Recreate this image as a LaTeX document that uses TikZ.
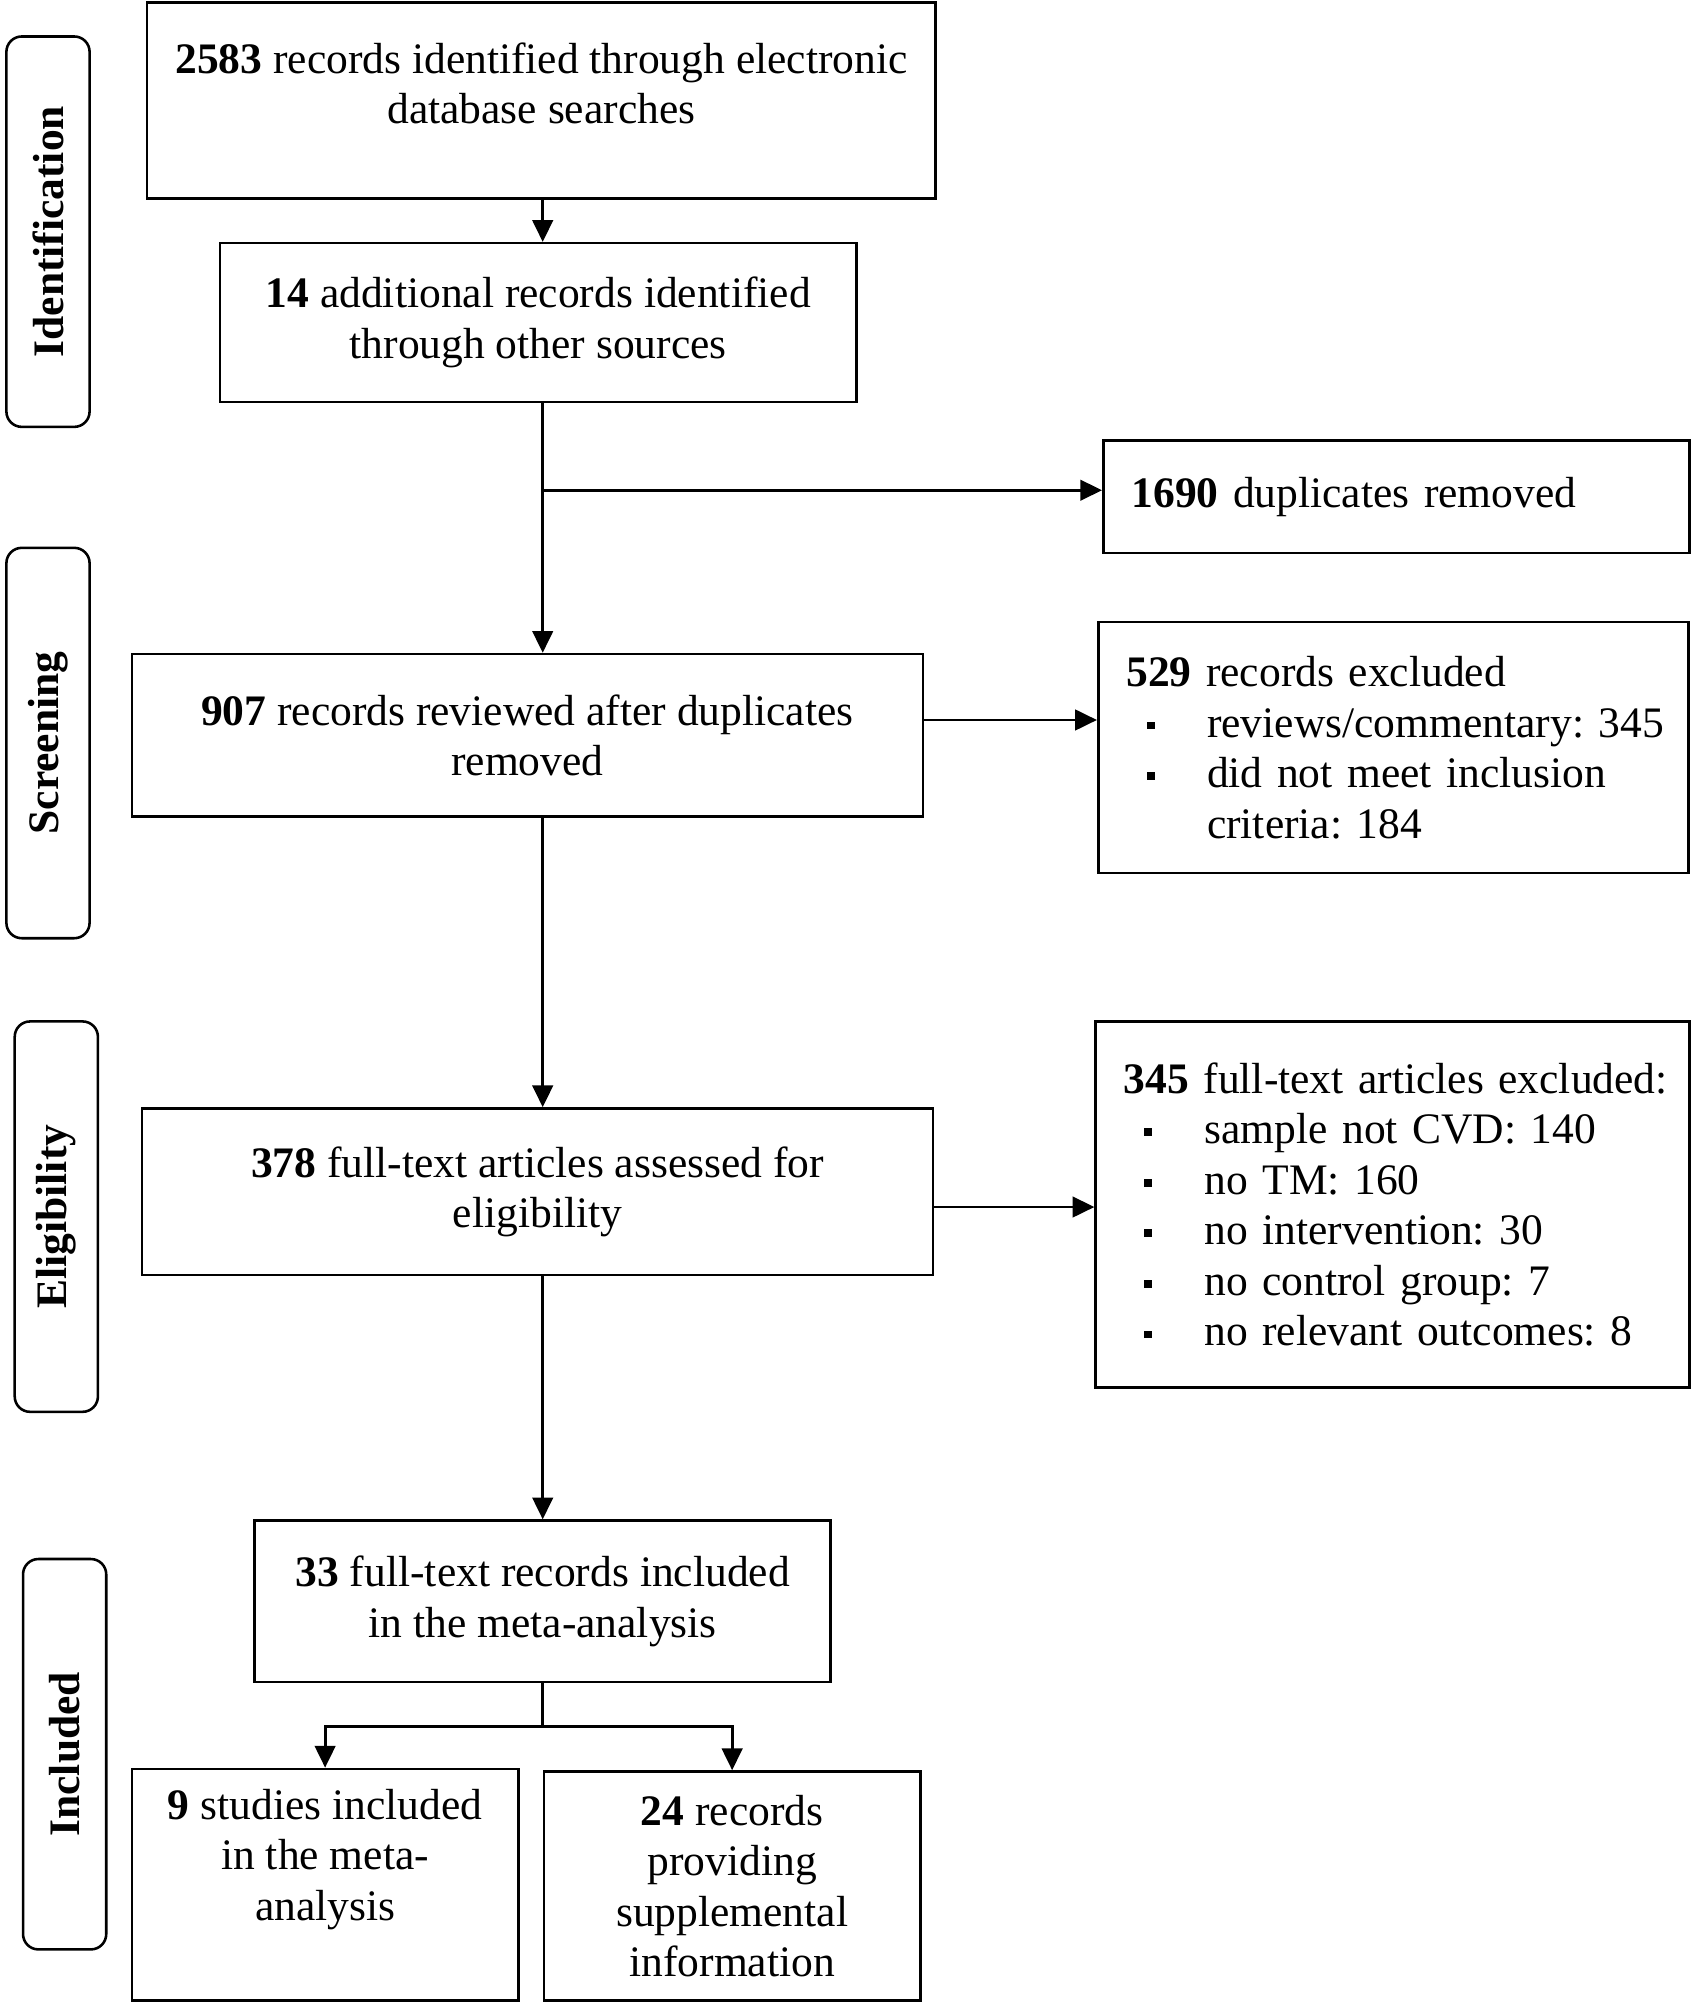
\documentclass[tikz,border=0pt]{standalone}
\usepackage{fontspec}
\setmainfont{Liberation Serif}
\usepackage{tikz}
\usetikzlibrary{shapes, calc, arrows.meta}
\frenchspacing

\tikzset{
	box/.style={draw, rectangle, line width=2pt, align=center, inner sep=0pt},
	listbox/.style={draw, rectangle, line width=2pt, align=left, inner xsep=22pt, inner ysep=0pt, text width=420pt},
	stage/.style={draw, rectangle, rounded corners=12pt, line width=2pt, rotate=90,
		minimum width=305pt, minimum height=65pt, inner sep=0pt,
		font=\fontsize{34}{39.5}\selectfont\bfseries},
	flow/.style={-{Triangle[width=16pt, length=17pt]}, line width=2.2pt},
}

\begin{document}
\begin{tikzpicture}[x=1pt, y=-1pt, font=\fontsize{34}{39.5}\selectfont]
	\def \bul {\makebox[63pt][l]{\hspace{16pt}\rule[6pt]{6pt}{6pt}}}

	\useasboundingbox (0,0) rectangle (1324,1568);

	\coordinate (trunk) at (424,0);

	\node[stage] (identification) at (37.5,181)
		{Identification};
	\node[stage] (screening)      at (37.5,580.5)
		{Screening};
	\node[stage] (eligibility)    at (44,950.5)
		{Eligibility};
	\node[stage] (inclusion)      at (50.5,1370.5)
		{Included};

	\node[box, minimum width=616pt, minimum height=153pt] (identified) at (423,78.5)
		{\textbf{2583} records identified through electronic\\database searches\rule[-27pt]{0pt}{27pt}};
	\node[box, minimum width=497pt, minimum height=124pt] (additional) at (420.5,252)
		{\textbf{14} additional records identified\\through other sources};
	\node[listbox, minimum height=88pt, text width=414pt] (duplicates) at (1091,388)
		{\mbox{\textbf{1690} duplicates removed}};
	\node[box, minimum width=618pt, minimum height=127pt] (screened)   at (412,574.5)
		{\textbf{907} records reviewed after duplicates\\removed};
	\node[listbox, minimum height=196pt, text width=417pt] (excluded) at (1088.5,584)
		{\textbf{529} records excluded\\
		\bul\mbox{reviews/commentary: 345}\\
		\bul did not meet inclusion\\
		\hspace*{63pt}criteria: 184};
	\node[box, minimum width=618pt, minimum height=130pt] (assessed)   at (420,931)
		{\textbf{378} full-text articles assessed for\\eligibility};
	\node[listbox, minimum height=286pt] (fulltextex) at (1088,941)
		{\mbox{\textbf{345} full-text articles excluded:}\\
		\bul sample not CVD: 140\\
		\bul no TM: 160\\
		\bul no intervention: 30\\
		\bul no control group: 7\\
		\bul no relevant outcomes: 8};
	\node[box, minimum width=450pt, minimum height=126pt] (included)   at (424,1251)
		{\textbf{33} full-text records included\\in the meta-analysis};
	\node[box, minimum width=302pt, minimum height=181pt] (studies)    at (254,1472.5)
		{\textbf{9} studies included\\in the meta-\\analysis\rule[-47pt]{0pt}{47pt}};
	\node[box, minimum width=294pt, minimum height=179pt] (supplemental) at (572,1473.5)
		{\textbf{24} records\\providing\\supplemental\\information};

	\draw[flow] (identified.south -| trunk) -- (additional.north -| trunk);
	\draw[flow] (additional.south -| trunk) -- (screened.north -| trunk);
	\draw[flow] ([yshift=5pt]duplicates.west -| trunk) -- ([yshift=5pt]duplicates.west);
	\draw[flow] ([yshift=12pt]screened.east) -- ([yshift=12pt]screened.east -| excluded.west);
	\draw[flow] (screened.south -| trunk) -- (assessed.north -| trunk);
	\draw[flow] ([yshift=-12pt]assessed.east) -- ([yshift=-12pt]assessed.east -| fulltextex.west);
	\draw[flow] (assessed.south -| trunk) -- (included.north -| trunk);
	\draw[flow] (included.south) -- ++(0,34) -| (studies.north);
	\draw[flow] (included.south) -- ++(0,34) -| (supplemental.north);
\end{tikzpicture}
\end{document}
